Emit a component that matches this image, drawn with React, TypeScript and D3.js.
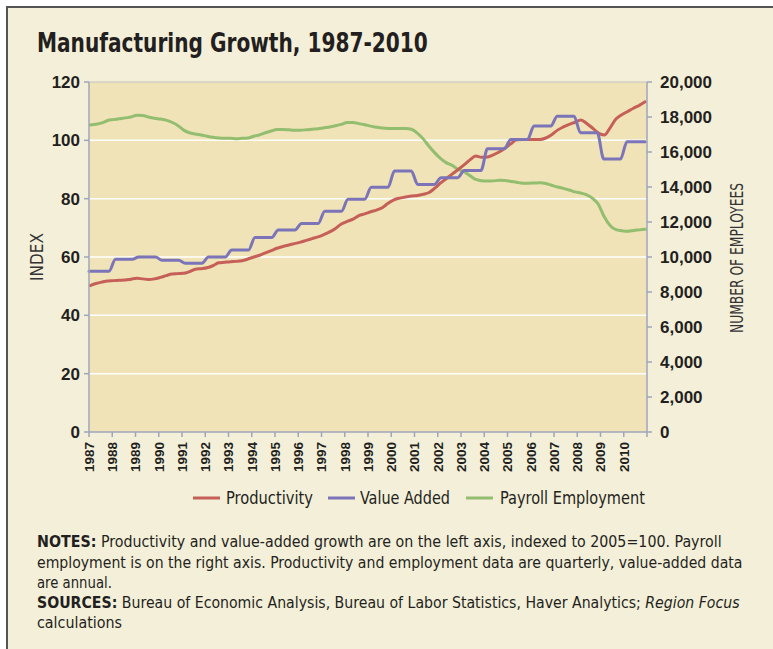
import React, { useLayoutEffect, useRef, useState } from "react";
import * as d3 from "d3";

const yearLabels = ["1987","1988","1989","1990","1991","1992","1993","1994","1995","1996","1997","1998","1999","2000","2001","2002","2003","2004","2005","2006","2007","2008","2009","2010"];
const leftTicks = [0, 20, 40, 60, 80, 100, 120];
const rightTicks = [0, 2000, 4000, 6000, 8000, 10000, 12000, 14000, 16000, 18000, 20000];

// Annual value added (index, 2005=100), 1987-2010
const valueAdded = [55.1, 59.2, 60.0, 58.9, 57.9, 60.0, 62.4, 66.7, 69.3, 71.5, 75.7, 79.8, 83.9, 89.5, 84.9, 87.2, 89.7, 97.1, 100.3, 104.9, 108.3, 102.6, 93.6, 99.5];

// Quarterly productivity (index, 2005=100), 1987Q1-2010Q4
const productivity = [
  50.2, 50.9, 51.4, 51.8,
  51.9, 52.0, 52.1, 52.4,
  52.7, 52.5, 52.3, 52.5,
  53.0, 53.6, 54.2, 54.3,
  54.4, 55.0, 55.8, 56.0,
  56.3, 57.0, 58.0, 58.2,
  58.4, 58.5, 58.7, 59.3,
  60.0, 60.6, 61.4, 62.2,
  63.0, 63.6, 64.1, 64.6,
  65.1, 65.7, 66.3, 66.9,
  67.7, 68.6, 69.8, 71.3,
  72.2, 73.0, 74.2, 74.8,
  75.5, 76.1, 76.9, 78.4,
  79.6, 80.2, 80.6, 80.9,
  81.1, 81.5, 82.1, 83.6,
  85.4, 86.9, 88.5, 90.0,
  91.6, 93.3, 94.6, 94.2,
  94.3, 95.0, 96.0, 97.3,
  98.8, 100.2, 100.3, 100.3,
  100.3, 100.3, 100.8, 101.9,
  103.5, 104.6, 105.5, 106.2,
  107.0, 105.8, 104.2, 102.5,
  101.8, 104.3, 107.3, 108.8,
  109.9, 111.0, 112.0, 113.2
];

// Quarterly payroll employment (thousands), 1987Q1-2010Q4
const payroll = [
  17540, 17580, 17660, 17800,
  17850, 17900, 17950, 18000,
  18100, 18090, 18000, 17930,
  17880, 17820, 17700, 17520,
  17250, 17100, 17030, 16970,
  16900, 16840, 16800, 16780,
  16780, 16760, 16780, 16800,
  16900, 16980, 17100, 17200,
  17290, 17290, 17270, 17250,
  17250, 17270, 17300, 17330,
  17380, 17430, 17500, 17580,
  17680, 17690, 17620, 17560,
  17480, 17420, 17370, 17350,
  17350, 17350, 17350, 17300,
  17080, 16750, 16330, 15950,
  15620, 15380, 15230, 15000,
  14870, 14650, 14430, 14360,
  14340, 14350, 14380, 14370,
  14320, 14270, 14220, 14220,
  14230, 14240, 14200, 14100,
  14000, 13920, 13830, 13720,
  13650, 13550, 13350, 13000,
  12300, 11800, 11560, 11500,
  11470, 11520, 11550, 11580
];

const NARROW = "'Liberation Sans Narrow', 'DejaVu Sans Condensed', 'Arial Narrow', sans-serif";
const SANS = "'Liberation Sans', Arial, sans-serif";
const TXT = "#231f20";
const AXIS = "#9ea6bb";
const RED = "#c55f58";
const BLUE = "#7b74b9";
const GREEN = "#93bd6f";

function FitText(props: any) {
  const { x, y, width, children, ...rest } = props;
  const ref = useRef<SVGTextElement>(null);
  const [s, setS] = useState(1);
  useLayoutEffect(() => {
    if (ref.current) {
      const w = ref.current.getComputedTextLength();
      if (w > 0) setS(width / w);
    }
  }, [width]);
  return (
    <text ref={ref} transform={`translate(${x},${y}) scale(${s},1)`} {...rest}>
      {children}
    </text>
  );
}

export default function App() {
  const x = d3.scaleLinear().domain([1987, 2011]).range([89, 647]);
  const yL = d3.scaleLinear().domain([0, 120]).range([432, 82]);
  const yR = d3.scaleLinear().domain([0, 20000]).range([432, 82]);
  const qt = d3.scaleLinear().domain([0, productivity.length - 1]).range([1987.05, 2010.92]);

  const prodLine = d3.line<number>().x((_, i) => x(qt(i))).y((d) => yL(d)).curve(d3.curveMonotoneX);
  const payLine = d3.line<number>().x((_, i) => x(qt(i))).y((d) => yR(d)).curve(d3.curveMonotoneX);

  const vaPts: [number, number][] = [];
  valueAdded.forEach((v, i) => {
    const yr = 1987 + i;
    vaPts.push([i === 0 ? yr : yr + 0.14, v]);
    vaPts.push([i === valueAdded.length - 1 ? yr + 0.92 : yr + 0.86, v]);
  });
  const vaLine = d3.line<[number, number]>().x((d) => x(d[0])).y((d) => yL(d[1])).curve(d3.curveMonotoneX);

  const xTicks = d3.range(1987, 2012);
  const fmt = d3.format(",");

  return (
    <svg width={773} height={649} style={{ position: "absolute", left: 0, top: 0, display: "block" }}>
      <rect x={0} y={0} width={773} height={649} fill="#ffffff" />
      <rect x={7} y={7} width={766} height={642} fill="#f4efd9" />
      <path d="M7,649 L7,7 L773,7" fill="none" stroke="#555" strokeWidth={2} />

      <FitText x={37} y={52} width={391} fontFamily={NARROW} fontWeight="bold" fontSize={27} fill={TXT}>
        Manufacturing Growth, 1987-2010
      </FitText>

      {/* plot area */}
      <rect x={x(1987)} y={yL(120)} width={x(2011) - x(1987)} height={yL(0) - yL(120)} fill="#efe3b7" />
      {leftTicks.filter((t) => t > 0 && t < 120).map((t) => (
        <line key={"g" + t} x1={x(1987)} x2={x(2011)} y1={yL(t)} y2={yL(t)} stroke="#ffffff" strokeWidth={1.5} />
      ))}
      <line x1={x(1987)} x2={x(2011)} y1={yL(120)} y2={yL(120)} stroke="#c4c4c4" strokeWidth={1} />

      {/* series */}
      <path d={payLine(payroll) || ""} fill="none" stroke={GREEN} strokeWidth={3} strokeLinejoin="round" strokeLinecap="round" />
      <path d={prodLine(productivity) || ""} fill="none" stroke={RED} strokeWidth={3} strokeLinejoin="round" strokeLinecap="round" />
      <path d={vaLine(vaPts) || ""} fill="none" stroke={BLUE} strokeWidth={3} strokeLinejoin="round" strokeLinecap="round" />

      {/* axes */}
      <line x1={x(1987)} x2={x(1987)} y1={yL(120)} y2={yL(0)} stroke={AXIS} strokeWidth={1.5} />
      <line x1={x(2011)} x2={x(2011)} y1={yL(120)} y2={yL(0)} stroke={AXIS} strokeWidth={1.5} />
      <line x1={x(1987)} x2={x(2011)} y1={yL(0)} y2={yL(0)} stroke={AXIS} strokeWidth={1.5} />

      {leftTicks.map((t) => (
        <g key={"l" + t}>
          <line x1={x(1987) - 5} x2={x(1987)} y1={yL(t)} y2={yL(t)} stroke={AXIS} strokeWidth={1.5} />
          <text x={80} y={yL(t)} dy="0.36em" textAnchor="end" fontFamily={SANS} fontWeight="bold" fontSize={17} fill={TXT}>
            {t}
          </text>
        </g>
      ))}
      {rightTicks.map((t) => (
        <g key={"r" + t}>
          <line x1={x(2011)} x2={x(2011) + 5} y1={yR(t)} y2={yR(t)} stroke={AXIS} strokeWidth={1.5} />
          <text x={660} y={yR(t)} dy="0.36em" textAnchor="start" fontFamily={SANS} fontWeight="bold" fontSize={17} fill={TXT}>
            {fmt(t)}
          </text>
        </g>
      ))}
      {xTicks.map((t) => (
        <line key={"x" + t} x1={x(t)} x2={x(t)} y1={yL(0)} y2={yL(0) + 5} stroke={AXIS} strokeWidth={1.5} />
      ))}
      {yearLabels.map((lab) => {
        const px = x(+lab);
        return (
          <text key={"xl" + lab} transform={`translate(${px},442) rotate(-90)`} dy="0.36em" textAnchor="end" fontFamily={SANS} fontWeight="bold" fontSize={13.5} fill={TXT}>
            {lab}
          </text>
        );
      })}

      <text transform="translate(37,257) rotate(-90)" dy="0.36em" textAnchor="middle" fontFamily={NARROW} fontSize={17} fill="#333">
        INDEX
      </text>
      <text transform="translate(737,258) rotate(-90)" dy="0.36em" textAnchor="middle" fontFamily={NARROW} fontSize={17} fill="#333" textLength={150} lengthAdjust="spacingAndGlyphs">
        NUMBER OF EMPLOYEES
      </text>

      {/* legend */}
      <line x1={193} x2={220} y1={498} y2={498} stroke={RED} strokeWidth={3} />
      <FitText x={226} y={504} width={87} fontFamily={NARROW} fontSize={17} fill={TXT}>Productivity</FitText>
      <line x1={328} x2={355} y1={498} y2={498} stroke={BLUE} strokeWidth={3} />
      <FitText x={360} y={504} width={90} fontFamily={NARROW} fontSize={17} fill={TXT}>Value Added</FitText>
      <line x1={466} x2={493} y1={498} y2={498} stroke={GREEN} strokeWidth={3} />
      <FitText x={500} y={504} width={145} fontFamily={NARROW} fontSize={17} fill={TXT}>Payroll Employment</FitText>

      {/* notes */}
      <g fontFamily={NARROW} fontSize={16.5} fill={TXT}>
        <FitText x={37} y={547} width={685}>
          <tspan fontWeight="bold">NOTES:</tspan> Productivity and value-added growth are on the left axis, indexed to 2005=100. Payroll
        </FitText>
        <FitText x={37} y={567.5} width={706}>
          employment is on the right axis. Productivity and employment data are quarterly, value-added data
        </FitText>
        <FitText x={37} y={588} width={75}>are annual.</FitText>
        <FitText x={37} y={608} width={703}>
          <tspan fontWeight="bold">SOURCES:</tspan> Bureau of Economic Analysis, Bureau of Labor Statistics, Haver Analytics; <tspan fontStyle="italic">Region Focus</tspan>
        </FitText>
        <FitText x={37} y={628} width={85}>calculations</FitText>
      </g>
    </svg>
  );
}
